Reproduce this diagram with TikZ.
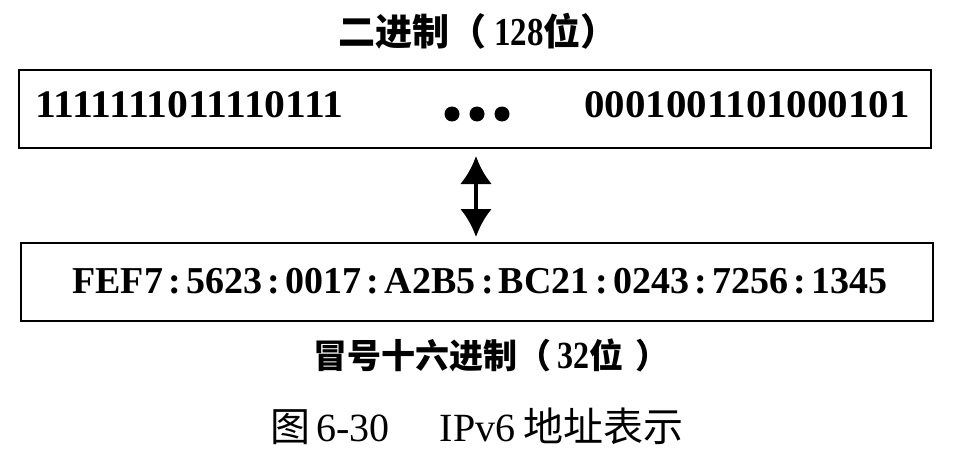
\documentclass[tikz,border=0pt]{standalone}
\usepackage{fontspec}
\setmainfont{Liberation Serif}
\newfontfamily\cjk{Noto Sans CJK SC}
\usetikzlibrary{arrows.meta}
\newcommand\cln{\hspace{0.14em}:\hspace{0.14em}}
\newcommand\talldigits[1]{\scalebox{1}[1.2]{#1}}
\begin{document}
\begin{tikzpicture}[x=1pt,y=-1pt,
  addrbox/.style={draw,line width=2pt,minimum width=912pt,minimum height=78pt,inner sep=0pt},
  bits/.style={font=\fontsize{39}{44}\selectfont\bfseries,inner sep=0pt},
  hexfont/.style={font=\fontsize{38}{44}\selectfont\bfseries,inner sep=0pt},
  titlefont/.style={font=\fontsize{37}{42}\selectfont\bfseries,inner sep=0pt},
  subfont/.style={font=\fontsize{34}{40}\selectfont\bfseries,inner sep=0pt},
  captext/.style={font=\fontsize{40}{44}\selectfont,inner sep=0pt},
  dot/.style={circle,fill=black,minimum size=15pt,inner sep=0pt},
  dbl/.style={line width=4.5pt,{Latex[length=28pt,width=32pt]}-{Latex[length=28pt,width=32pt]},shorten <=7pt,shorten >=5pt}
]
\useasboundingbox (0,0) rectangle (970,460);
\node[titlefont,anchor=west] (title) at (338,31) {{\cjk\bfseries 二进制（}\hspace{8pt}{\fontsize{33}{40}\selectfont\talldigits{128}}{\cjk\bfseries 位）}};
\node[addrbox] (bin) at (475,109) {};
\node[bits,anchor=west] (lbits) at (35,105) {\scalebox{1.07}[1]{1111111011110111}};
\node[bits,anchor=east] (rbits) at (910,105) {\scalebox{1.05}[1]{0001001101000101}};
\node[dot] (d1) at (452,114) {};
\node[dot] (d2) at (477,114) {};
\node[dot] (d3) at (502,114) {};
\node[addrbox] (hex) at (477,282) {};
\node[hexfont] (hexval) at (480,281) {FEF7\cln5623\cln0017\cln A2B5\cln BC21\cln0243\cln7256\cln1345};
\node[subfont,anchor=west] (sub) at (313,355) {{\cjk\bfseries 冒号十六进制（}\hspace{6pt}{\fontsize{32}{38}\selectfont\talldigits{32}}{\cjk\bfseries 位}\hspace{12pt}{\cjk\bfseries ）}};
\node[captext] (caption) at (477,426) {{\cjk 图}\hspace{6pt}6-30\hspace{50pt}IPv6\hspace{8pt}{\cjk 地址表示}};
\coordinate (ax) at (476,0);
\draw[dbl] (bin.south -| ax) -- (hex.north -| ax);
\end{tikzpicture}
\end{document}
